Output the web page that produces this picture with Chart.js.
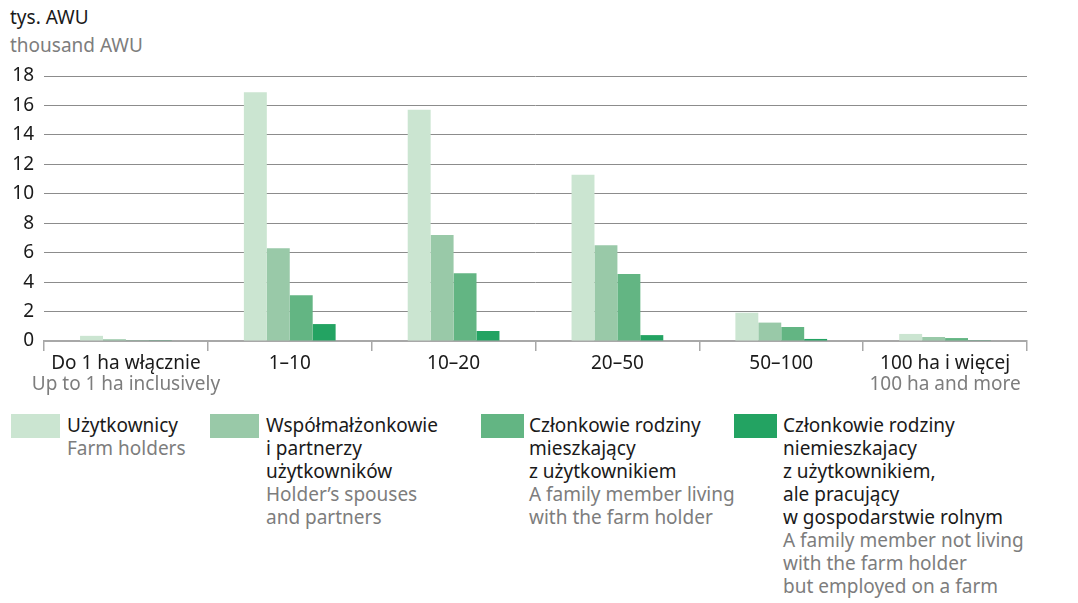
<!DOCTYPE html>
<html>
<head>
<meta charset="utf-8">
<script src="https://cdn.jsdelivr.net/npm/chart.js@4"></script>
<style>
  body { margin: 0; background: #fff; font-family: "Noto Sans", sans-serif; }
  #wrap { position: relative; width: 1078px; height: 603px; }
  #chart { position: absolute; left: 0; top: 0; }
  .unit { position: absolute; left: 10px; font-size: 19px; line-height: 24px; }
  .item { position: absolute; top: 414px; }
  .sw { position: absolute; top: 0; height: 24px; }
  .txt { position: absolute; top: 0; font-size: 19px; line-height: 23px; white-space: nowrap; color: #1a1a1a; margin-top: 0px; }
  .en { color: #7d7d7d; }
</style>
</head>
<body>
<div id="wrap">
  <div class="unit" style="top:5px;color:#1a1a1a">tys. AWU</div>
  <div class="unit" style="top:33px;color:#7d7d7d">thousand AWU</div>
  <canvas id="chart" width="1078" height="400"></canvas>
  <div id="legend"></div>
</div>
<script>
var categories = ['Do 1 ha włącznie', '1–10', '10–20', '20–50', '50–100', '100 ha i więcej'];
var categoriesEn = ['Up to 1 ha inclusively', '', '', '', '', '100 ha and more'];

var seriesNames = [
    ['Użytkownicy'],
    ['Współmałżonkowie', 'i partnerzy', 'użytkowników'],
    ['Członkowie rodziny', 'mieszkający', 'z użytkownikiem'],
    ['Członkowie rodziny', 'niemieszkajacy', 'z użytkownikiem,', 'ale pracujący', 'w gospodarstwie rolnym']
];
var seriesNamesEn = [
    ['Farm holders'],
    ['Holder’s spouses', 'and partners'],
    ['A family member living', 'with the farm holder'],
    ['A family member not living', 'with the farm holder', 'but employed on a farm']
];

var holders = [0.35, 16.9, 15.7, 11.3, 1.92, 0.48];
var spouses = [0.12, 6.3, 7.2, 6.5, 1.25, 0.27];
var livingWith = [0.05, 3.1, 4.6, 4.55, 0.95, 0.2];
var notLivingWith = [0.05, 1.15, 0.68, 0.4, 0.14, 0.05];

var yTicks = [0, 2, 4, 6, 8, 10, 12, 14, 16, 18];

var colors = ['#cbe5d1', '#99c9a8', '#63b583', '#23a362'];
var allSeries = [holders, spouses, livingWith, notLivingWith];

// legenda w HTML
var legendPos = [[11, 49, 67], [210, 49, 266], [481, 43, 529], [734, 43, 783]];
var legendDiv = document.getElementById('legend');
seriesNames.forEach(function (name, i) {
    var p = legendPos[i];
    var item = document.createElement('div');
    item.className = 'item';
    item.innerHTML = '<div class="sw" style="left:' + p[0] + 'px;width:' + p[1] + 'px;background:' + colors[i] + '"></div>' +
        '<div class="txt" style="left:' + p[2] + 'px">' + name.join('<br>') +
        '<br><span class="en">' + seriesNamesEn[i].join('<br>') + '</span></div>';
    legendDiv.appendChild(item);
});

// podpisy angielskie pod osią X
var subLabels = {
    id: 'subLabels',
    afterDraw: function (chart) {
        var ctx = chart.ctx;
        var x = chart.scales.x;
        ctx.save();
        ctx.font = '19px "Noto Sans"';
        ctx.fillStyle = '#7d7d7d';
        ctx.textAlign = 'center';
        ctx.textBaseline = 'middle';
        categoriesEn.forEach(function (t, i) {
            if (t) ctx.fillText(t, x.getPixelForValue(i), 385);
        });
        ctx.restore();
    }
};

new Chart(document.getElementById('chart'), {
    type: 'bar',
    data: {
        labels: categories,
        datasets: allSeries.map(function (d, i) {
            return {
                label: seriesNames[i].join(' '),
                data: d,
                backgroundColor: colors[i],
                categoryPercentage: 0.56,
                barPercentage: 1.0
            };
        })
    },
    options: {
        responsive: false,
        animation: false,
        layout: { padding: { top: 76, right: 51, left: 0, bottom: 0 } },
        plugins: { legend: { display: false }, tooltip: { enabled: false } },
        scales: {
            x: {
                afterFit: function (s) { s.height = 59; },
                grid: { offset: true, drawOnChartArea: false, color: '#a8a8a8', lineWidth: 1.5, tickLength: 10 },
                border: { color: '#a8a8a8', width: 2 },
                ticks: { color: '#1a1a1a', font: { family: 'Noto Sans', size: 19 }, padding: 1, maxRotation: 0 }
            },
            y: {
                min: 0,
                max: 18,
                afterFit: function (s) { s.width = 44; },
                afterBuildTicks: function (s) { s.ticks = yTicks.map(function (v) { return { value: v }; }); },
                grid: { color: '#8c8c8c', lineWidth: 1, drawTicks: false },
                border: { display: false },
                ticks: { color: '#1a1a1a', font: { family: 'Noto Sans', size: 19 }, padding: 10 }
            }
        }
    },
    plugins: [subLabels]
});
</script>
</body>
</html>
